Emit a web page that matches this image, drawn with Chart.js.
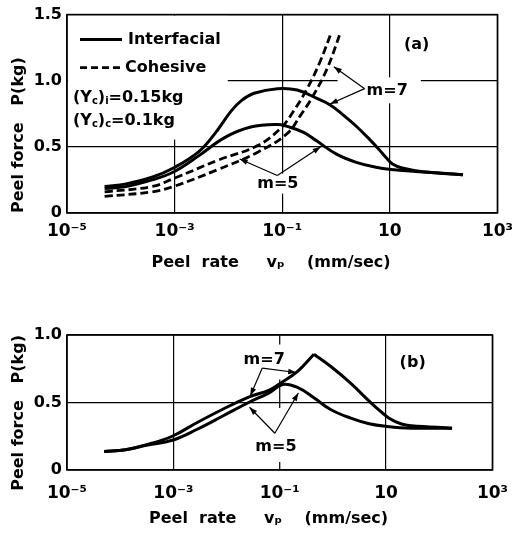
<!DOCTYPE html>
<html>
<head>
<meta charset="utf-8">
<script src="https://cdn.jsdelivr.net/npm/chart.js@4.4.1/dist/chart.umd.min.js"></script>
<style>
  html, body { margin: 0; padding: 0; background: #fff; }
  #wrap { position: relative; width: 521px; height: 536px; }
  .box { position: absolute; left: 0; width: 521px; }
  #boxA { top: 0; height: 275px; }
  #boxB { top: 275px; height: 261px; }
</style>
</head>
<body>
<div id="wrap">
  <div class="box" id="boxA"><canvas id="chartA"></canvas></div>
  <div class="box" id="boxB"><canvas id="chartB"></canvas></div>
</div>
<script>
// peel rate vp (mm/sec) vs peel force P (kg)

// (a) interfacial failure
const rateA7 = [5.0e-5, 1.26e-4, 3.8e-4, 9.5e-4, 2.75e-3, 5.6e-3, 1.12e-2, 1.74e-2, 3.0e-2, 8.1e-2, 0.19, 0.44, 0.78, 1.35, 2.38, 4.2, 6.3, 8.5, 11.2, 17, 30, 69, 229]
const forceA7 = [0.20, 0.22, 0.27, 0.34, 0.46, 0.60, 0.77, 0.85, 0.905, 0.94, 0.93, 0.866, 0.817, 0.742, 0.656, 0.557, 0.48, 0.42, 0.371, 0.34, 0.32, 0.305, 0.29]
const rateA5 = [5.0e-5, 1.26e-4, 3.8e-4, 9.5e-4, 2.75e-3, 8.5e-3, 2.6e-2, 8.1e-2, 0.123, 0.25, 0.44, 1.02, 2.38, 5.5, 10.5, 30, 229]
const forceA5 = [0.185, 0.20, 0.25, 0.31, 0.43, 0.57, 0.65, 0.67, 0.655, 0.61, 0.544, 0.445, 0.383, 0.346, 0.329, 0.314, 0.29]

// (a) cohesive failure
const rateC5 = [5.0e-5, 3.8e-4, 9.5e-4, 6.5e-3, 3.5e-2, 9.3e-2, 0.162, 0.29, 0.50, 0.81]
const forceC5 = [0.16, 0.20, 0.26, 0.40, 0.51, 0.64, 0.77, 0.94, 1.14, 1.36]
const rateC7 = [5.0e-5, 3.8e-4, 9.5e-4, 6.5e-3, 3.5e-2, 0.123, 0.22, 0.38, 0.68, 1.2]
const forceC7 = [0.125, 0.16, 0.20, 0.33, 0.46, 0.60, 0.74, 0.89, 1.09, 1.36]

// (b)
const rateB7 = [5.0e-5, 1.26e-4, 3.3e-4, 9.5e-4, 2.75e-3, 8.5e-3, 2.6e-2, 6.2e-2, 9.5e-2, 0.22, 0.44, 0.89, 2.1, 4.8, 6.3, 11.2, 19.5, 30, 174]
const forceB7 = [0.137, 0.15, 0.19, 0.25, 0.35, 0.45, 0.54, 0.59, 0.634, 0.733, 0.858, 0.77, 0.647, 0.51, 0.468, 0.386, 0.341, 0.328, 0.31]
const rateB5 = [5.0e-5, 1.26e-4, 3.3e-4, 9.5e-4, 2.75e-3, 8.5e-3, 2.6e-2, 6.2e-2, 0.115, 0.22, 0.44, 0.89, 2.1, 4.8, 10.5, 30, 174]
const forceB5 = [0.137, 0.15, 0.185, 0.22, 0.30, 0.40, 0.50, 0.57, 0.634, 0.61, 0.535, 0.45, 0.386, 0.343, 0.323, 0.31, 0.31]

// axes
const xTicks = [1e-5, 1e-3, 1e-1, 10, 1e3]
const xTickLabels = ['10\u207B\u2075', '10\u207B\u00B3', '10\u207B\u00B9', '10', '10\u00B3']
const yTicksA = [0, 0.5, 1.0, 1.5]
const yTickLabelsA = ['0', '0.5', '1.0', '1.5']
const yTicksB = [0, 0.5, 1.0]
const yTickLabelsB = ['0', '0.5', '1.0']

Chart.defaults.font.family = "'DejaVu Sans', sans-serif"
Chart.defaults.font.size = 16
Chart.defaults.font.weight = 'bold'
Chart.defaults.color = '#000'

const fontMain = "bold 16px 'DejaVu Sans'"
const fontSub = "bold 10px 'DejaVu Sans'"

function pts(xs, ys) {
  return xs.map((v, i) => ({x: v, y: ys[i]}))
}

function curve(label, xs, ys, dashed) {
  return {
    label: label,
    data: pts(xs, ys),
    borderColor: '#000',
    borderWidth: dashed ? 2.8 : 3,
    borderDash: dashed ? [8, 4] : [],
    tension: 0.4,
    pointRadius: 0,
    fill: false
  }
}

// text with subscripts, parts = [[text, isSub], ...]
function drawParts(ctx, parts, x, y, measureOnly) {
  let cx = x
  parts.forEach(p => {
    ctx.font = p[1] ? fontSub : fontMain
    if (!measureOnly) ctx.fillText(p[0], cx, p[1] ? y + 4 : y)
    cx += ctx.measureText(p[0]).width
  })
  return cx
}

function arrow(ctx, x0, y0, x1, y1) {
  ctx.beginPath()
  ctx.moveTo(x0, y0)
  ctx.lineTo(x1, y1)
  ctx.stroke()
  const ang = Math.atan2(y1 - y0, x1 - x0)
  const L = 8, W = 2.8
  ctx.beginPath()
  ctx.moveTo(x1, y1)
  ctx.lineTo(x1 - L * Math.cos(ang) + W * Math.sin(ang), y1 - L * Math.sin(ang) - W * Math.cos(ang))
  ctx.lineTo(x1 - L * Math.cos(ang) - W * Math.sin(ang), y1 - L * Math.sin(ang) + W * Math.cos(ang))
  ctx.closePath()
  ctx.fill()
}

function legendRows(chart, lg, draw) {
  const {ctx, chartArea: a} = chart
  let right = a.left
  lg.forEach(r => {
    const ry = a.top + r.dy
    if (r.dataset !== undefined) {
      const ds = chart.data.datasets[r.dataset]
      if (draw) {
        ctx.save()
        ctx.lineWidth = ds.borderWidth
        ctx.setLineDash(r.dash || [])
        ctx.beginPath()
        ctx.moveTo(a.left + 13, ry)
        ctx.lineTo(a.left + 55, ry)
        ctx.stroke()
        ctx.restore()
      }
      right = Math.max(right, drawParts(ctx, [[r.text, 0]], a.left + r.tx, ry, !draw))
    } else {
      right = Math.max(right, drawParts(ctx, r.parts, a.left + 6, ry, !draw))
    }
  })
  return right
}

const decor = {
  id: 'decor',
  beforeDatasetsDraw(chart, args, o) {
    const {ctx, chartArea: a, scales: {x, y}} = chart
    ctx.save()
    ctx.textBaseline = 'middle'
    ctx.font = fontMain
    ctx.fillStyle = '#fff'
    ;(o.labels || []).forEach(l => {
      if (!l.pad) return
      const w = ctx.measureText(l.text).width
      const px = x.getPixelForValue(l.x), py = y.getPixelForValue(l.y)
      const left = l.align === 'left' ? px : px - w / 2
      ctx.fillRect(left - l.pad[0], py - 8 - l.pad[2], w + l.pad[0] + l.pad[1], 16 + l.pad[2] + l.pad[3])
    })
    if (o.legend) {
      const r = legendRows(chart, o.legend, false)
      ctx.fillStyle = '#fff'
      ctx.fillRect(a.left + 1, a.top + 1, r + 6 - a.left, 124)
    }
    ctx.restore()
  },
  afterDatasetsDraw(chart, args, o) {
    const {ctx, chartArea: a, scales: {x, y}} = chart
    ctx.save()
    ctx.strokeStyle = '#000'
    ctx.fillStyle = '#000'
    // short pieces of the 0.1 grid line that remain in (b)
    if (o.cross) {
      const px = x.getPixelForValue(o.cross.x)
      ctx.lineWidth = 1.2
      o.cross.spans.forEach(s => {
        ctx.beginPath()
        ctx.moveTo(px, y.getPixelForValue(s[0]))
        ctx.lineTo(px, y.getPixelForValue(s[1]))
        ctx.stroke()
      })
    }
    // frame
    ctx.lineWidth = 1.6
    ctx.strokeRect(a.left, a.top, a.right - a.left, a.bottom - a.top)
    // arrows
    ctx.lineWidth = 1.2
    ;(o.arrows || []).forEach(ar => {
      const x0 = x.getPixelForValue(ar.from[0]), y0 = y.getPixelForValue(ar.from[1])
      ar.to.forEach(t => arrow(ctx, x0, y0, x.getPixelForValue(t[0]), y.getPixelForValue(t[1])))
    })
    // labels
    ctx.textBaseline = 'middle'
    ctx.font = fontMain
    ;(o.labels || []).forEach(l => {
      ctx.textAlign = l.align || 'center'
      ctx.fillText(l.text, x.getPixelForValue(l.x), y.getPixelForValue(l.y))
    })
    ctx.textAlign = 'left'
    if (o.legend) legendRows(chart, o.legend, true)
    ctx.restore()
  }
}

function build(id, p) {
  return new Chart(document.getElementById(id), {
    type: 'line',
    data: {datasets: p.datasets},
    options: {
      responsive: true,
      maintainAspectRatio: false,
      animation: false,
      layout: {padding: {left: 0, top: p.top, right: 18, bottom: 0}},
      plugins: {legend: {display: false}, tooltip: {enabled: false}, decor: p.decor},
      scales: {
        x: {
          type: 'logarithmic',
          min: 1e-5,
          max: 1e3,
          afterBuildTicks: s => { s.ticks = xTicks.map(v => ({value: v})) },
          afterFit: s => { s.height = p.xHeight },
          border: {display: false},
          grid: {
            drawTicks: false,
            lineWidth: 1.2,
            color: c => (p.hideX !== undefined && c.tick && c.tick.value === p.hideX) ? 'rgba(0,0,0,0)' : '#000'
          },
          ticks: {
            autoSkip: false,
            maxRotation: 0,
            padding: p.xPad,
            font: {size: 17, weight: 'bold'},
            callback: v => xTickLabels[xTicks.indexOf(v)]
          },
          title: {
            display: true,
            text: 'Peel  rate     v\u209A    (mm/sec)    ',
            font: {size: 16, weight: 'bold'},
            padding: {top: 0, bottom: p.xTitlePad}
          }
        },
        y: {
          type: 'linear',
          min: 0,
          max: p.yTicks[p.yTicks.length - 1],
          afterBuildTicks: s => { s.ticks = p.yTicks.map(v => ({value: v})) },
          afterFit: s => { s.width = 67 },
          border: {display: false},
          grid: {drawTicks: false, lineWidth: 1.2, color: '#000'},
          ticks: {
            padding: 5,
            callback: v => p.yLabels[p.yTicks.indexOf(v)]
          },
          title: {
            display: true,
            text: 'Peel force   P(kg)',
            align: p.yTitleAlign,
            font: {size: 16, weight: 'bold'},
            padding: {top: 9, bottom: 0}
          }
        }
      }
    },
    plugins: [decor]
  })
}

build('chartA', {
  datasets: [
    curve('Interfacial m=7', rateA7, forceA7, false),
    curve('Interfacial m=5', rateA5, forceA5, false),
    curve('Cohesive m=5', rateC5, forceC5, true),
    curve('Cohesive m=7', rateC7, forceC7, true)
  ],
  top: 11,
  xHeight: 62,
  xPad: 8,
  xTitlePad: 2.4,
  yTicks: yTicksA,
  yLabels: yTickLabelsA,
  yTitleAlign: 'start',
  decor: {
    legend: [
      {dataset: 0, text: 'Interfacial', dy: 25, tx: 61},
      {dataset: 2, text: 'Cohesive', dy: 53, tx: 58, dash: [7, 4]},
      {parts: [['(Y', 0], ['c', 1], [')', 0], ['i', 1], ['=0.15kg', 0]], dy: 83},
      {parts: [['(Y', 0], ['c', 1], [')', 0], ['c', 1], ['=0.1kg', 0]], dy: 106}
    ],
    labels: [
      {text: '(a)', x: 31.6, y: 1.27},
      {text: 'm=7', x: 3.7, y: 0.92, align: 'left', pad: [29, 13, 6, 4]},
      {text: 'm=5', x: 0.083, y: 0.222, pad: [3, 3, 2, 2]}
    ],
    arrows: [
      {from: [3.4, 0.94], to: [[0.91, 1.106], [0.77, 0.824]]},
      {from: [0.081, 0.284], to: [[0.0162, 0.408], [0.52, 0.50]]}
    ]
  }
})

// (b): m=7 has a sharp peak, so draw it as rising and falling branches
const peakB7 = forceB7.indexOf(Math.max(...forceB7))

build('chartB', {
  datasets: [
    curve('m=7', rateB7.slice(0, peakB7 + 1), forceB7.slice(0, peakB7 + 1), false),
    curve('m=7', rateB7.slice(peakB7), forceB7.slice(peakB7), false),
    curve('m=5', rateB5, forceB5, false)
  ],
  top: 60,
  xHeight: 66,
  xPad: 13,
  xTitlePad: 7.4,
  yTicks: yTicksB,
  yLabels: yTickLabelsB,
  yTitleAlign: 'end',
  hideX: 0.1,
  decor: {
    cross: {x: 0.1, spans: [[0.93, 1.0], [0.46, 0.67], [0, 0.06]]},
    labels: [
      {text: '(b)', x: 31.6, y: 0.795},
      {text: 'm=7', x: 0.051, y: 0.817},
      {text: 'm=5', x: 0.085, y: 0.17}
    ],
    arrows: [
      {from: [0.047, 0.755], to: [[0.028, 0.55], [0.204, 0.722]]},
      {from: [0.081, 0.272], to: [[0.027, 0.465], [0.224, 0.57]]}
    ]
  }
})
</script>
</body>
</html>
